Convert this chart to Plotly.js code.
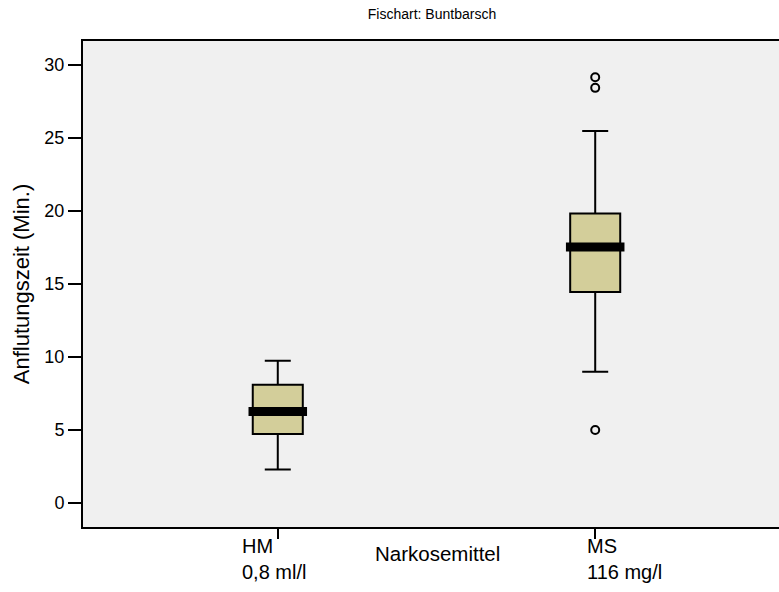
<!DOCTYPE html>
<html>
<head>
<meta charset="utf-8">
<script src="https://cdn.plot.ly/plotly-3.0.1.min.js"></script>
<style>html,body{margin:0;padding:0;background:#fff;}#chart{width:779px;height:592px;}</style>
</head>
<body>
<div id="chart"></div>
<script>
// ---- data ----
const categories = ["HM", "MS"];
const categoryLabels = ["HM<br>0,8 ml/l", "MS<br>116 mg/l"];
const positions = [0, 1];
const lowerWhisker = [2.28, 8.97];
const q1 = [4.72, 14.44];
const median = [6.26, 17.52];
const q3 = [8.09, 19.82];
const upperWhisker = [9.73, 25.47];
const outlierX = [1, 1, 1];
const outlierY = [29.16, 28.43, 4.99];
const yTicks = [0, 5, 10, 15, 20, 25, 30];

const fontFam = "Liberation Sans, Arial, sans-serif";
const boxWidth = 0.1576;
const labelShift = [-38, -10];

const traces = categories.map((c, i) => ({
  type: "box",
  name: c,
  x: [positions[i]],
  q1: [q1[i]], median: [median[i]], q3: [q3[i]],
  lowerfence: [lowerWhisker[i]], upperfence: [upperWhisker[i]],
  width: boxWidth,
  whiskerwidth: 0.52,
  fillcolor: "#d3ce9a",
  line: {color: "#000", width: 2},
  boxpoints: false,
  hoverinfo: "skip",
  showlegend: false
}));
traces.push({
  type: "scatter", mode: "markers",
  x: outlierX, y: outlierY,
  marker: {symbol: "circle-open", size: 8, color: "#000", line: {width: 2, color: "#000"}},
  showlegend: false, hoverinfo: "skip"
});

const shapes = positions.map((p, i) => ({
  type: "line", xref: "x", yref: "y",
  x0: p - boxWidth * 0.585, x1: p + boxWidth * 0.585,
  y0: median[i], y1: median[i],
  line: {color: "#000", width: 9}
}));

const annotations = positions.map((p, i) => ({
  xref: "x", yref: "paper", x: p, y: 0, xanchor: "left", yanchor: "top",
  xshift: labelShift[i], yshift: -6,
  text: categoryLabels[i], align: "left", showarrow: false,
  font: {family: fontFam, size: 20, color: "#000"}
}));
annotations.push({
  xref: "paper", yref: "paper", x: 0.509, y: 0, xanchor: "center", yanchor: "top",
  yshift: -13, text: "Narkosemittel", showarrow: false,
  font: {family: fontFam, size: 20.5, color: "#000"}
});

const layout = {
  width: 779, height: 592,
  margin: {l: 83, r: 0, t: 41, b: 65},
  paper_bgcolor: "#fff",
  plot_bgcolor: "#f0f0f0",
  font: {family: fontFam, size: 18, color: "#000"},
  title: {text: "Fischart: Buntbarsch", x: 432/779, xref: "container", xanchor: "center",
          y: 1 - 14/592, yref: "container", yanchor: "middle",
          font: {family: fontFam, size: 14, color: "#000"}},
  xaxis: {range: [-0.6136, 1.579], tickvals: positions, ticktext: ["", ""],
          showgrid: false, zeroline: false, showline: true, linecolor: "#000", linewidth: 2,
          mirror: true, ticks: "outside", ticklen: 10, tickwidth: 2, tickcolor: "#000"},
  yaxis: {range: [-1.66, 31.64], tickvals: yTicks, showgrid: false, zeroline: false,
          showline: true, linecolor: "#000", linewidth: 2,
          ticks: "outside", ticklen: 13, tickwidth: 2, tickcolor: "#000",
          tickfont: {family: fontFam, size: 18, color: "#000"},
          title: {text: "Anflutungszeit (Min.)", standoff: 9, font: {family: fontFam, size: 22, color: "#000"}}},
  shapes: shapes,
  annotations: annotations
};

Plotly.newPlot("chart", traces, layout, {displayModeBar: false, staticPlot: true});
</script>
</body>
</html>
